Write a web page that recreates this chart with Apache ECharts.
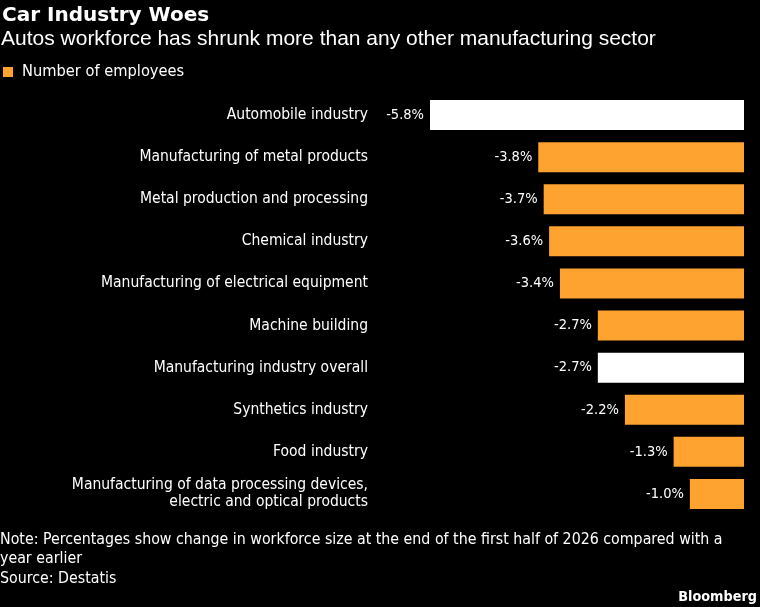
<!DOCTYPE html>
<html>
<head>
    <meta charset="utf-8" />
    <title>Car Industry Woes</title>
    <script type="text/javascript" src="https://cdn.jsdelivr.net/npm/echarts@6/dist/echarts.min.js"></script>
    <style>
        html, body { margin: 0; padding: 0; background: #000; }
        #chart { width: 760px; height: 607px; }
    </style>
</head>
<body>
    <div id="chart"></div>
    <script type="text/javascript">
        var categories = [
            "Automobile industry",
            "Manufacturing of metal products",
            "Metal production and processing",
            "Chemical industry",
            "Manufacturing of electrical equipment",
            "Machine building",
            "Manufacturing industry overall",
            "Synthetics industry",
            "Food industry",
            "Manufacturing of data processing devices,\nelectric and optical products"
        ];
        var values = [-5.8, -3.8, -3.7, -3.6, -3.4, -2.7, -2.7, -2.2, -1.3, -1.0];
        // rows drawn in white instead of the series colour
        var highlighted = ["Automobile industry", "Manufacturing industry overall"];

        var orange = '#fea230';
        var condensed = '"DejaVu Sans Condensed", "Liberation Sans Narrow", sans-serif';

        var barData = values.map(function (v, i) {
            var item = { value: v };
            if (highlighted.indexOf(categories[i]) >= 0) {
                item.itemStyle = { color: '#ffffff' };
            }
            return item;
        });

        var myChart = echarts.init(document.getElementById('chart'));
        var option = {
            backgroundColor: '#000000',
            animation: false,
            title: [{
                text: 'Car Industry Woes',
                left: 2,
                top: 6,
                padding: 0,
                textStyle: { color: '#fff', fontSize: 20, fontWeight: 'bold', fontFamily: '"DejaVu Sans", sans-serif' }
            }, {
                text: 'Autos workforce has shrunk more than any other manufacturing sector',
                left: 1,
                top: 29,
                padding: 0,
                textStyle: { color: '#fff', fontSize: 21, fontWeight: 'normal', fontFamily: '"Liberation Sans", sans-serif' }
            }, {
                text: 'Note: Percentages show change in workforce size at the end of the first half of 2026 compared with a\nyear earlier\nSource: Destatis',
                left: 0,
                top: 530,
                padding: 0,
                textStyle: { color: '#fff', fontSize: 15.8, fontWeight: 'normal', lineHeight: 19.5, fontFamily: condensed }
            }, {
                text: 'Bloomberg',
                right: 3,
                top: 590,
                padding: 0,
                textStyle: { color: '#fff', fontSize: 14.3, fontWeight: 'bold', fontFamily: condensed }
            }],
            legend: {
                left: 3,
                top: 64,
                padding: 0,
                itemWidth: 10,
                itemHeight: 10,
                itemGap: 10,
                icon: 'rect',
                textStyle: { color: '#fff', fontSize: 16.3, padding: [0, 0, 0, 4], fontFamily: condensed },
                data: [{ name: 'Number of employees', itemStyle: { color: orange } }]
            },
            grid: {
                left: 430,
                right: 16,
                top: 94,
                bottom: 607 - 515,
                containLabel: false
            },
            xAxis: {
                type: 'value',
                min: -5.8,
                max: 0,
                show: false
            },
            yAxis: {
                type: 'category',
                inverse: true,
                data: categories,
                axisLine: { show: false },
                axisTick: { show: false },
                axisLabel: {
                    margin: 62,
                    color: '#fff',
                    fontSize: 15.5,
                    lineHeight: 17,
                    align: 'right',
                    fontFamily: condensed
                }
            },
            series: [{
                name: 'Number of employees',
                type: 'bar',
                data: barData,
                barWidth: 30,
                itemStyle: { color: orange },
                label: {
                    show: true,
                    position: 'left',
                    distance: 6,
                    color: '#fff',
                    fontSize: 14.5,
                    fontFamily: condensed,
                    formatter: function (p) { return p.value.toFixed(1) + '%'; }
                }
            }]
        };
        option && myChart.setOption(option);
    </script>
</body>
</html>
